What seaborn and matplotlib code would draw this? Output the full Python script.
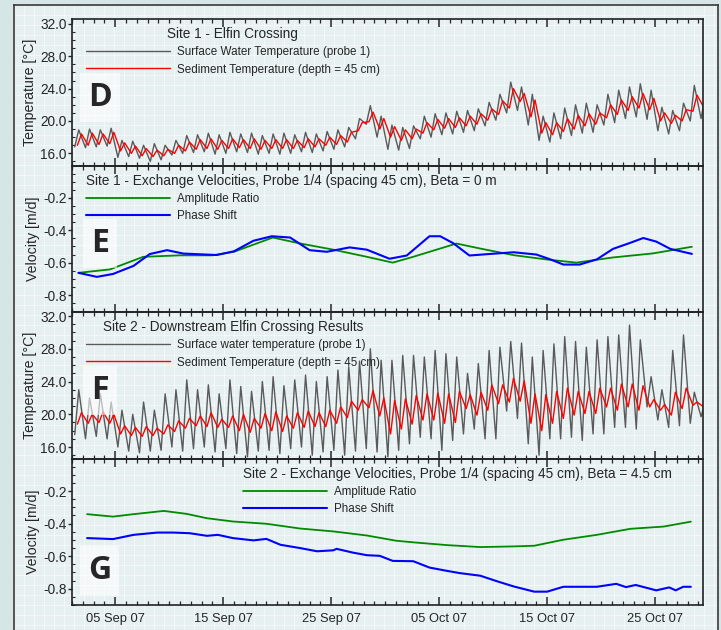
import numpy as np
import pandas as pd
import matplotlib.pyplot as plt
import matplotlib.dates as mdates
import seaborn as sns

sns.set_style('ticks')
plt.rcParams['font.family'] = ['Liberation Sans', 'DejaVu Sans']
plt.rcParams['axes.unicode_minus'] = False

start = pd.Timestamp('2007-09-01')

# ---------------- Site 1 temperatures: daily min / max (days 0..58 from 1 Sep) ----------------
d_surf_max = [18.9, 19.0, 18.9, 19.1, 17.6, 17.5, 17.0, 17.2, 17.0, 17.6,
              18.2, 18.3, 18.5, 18.3, 18.6, 18.4, 18.5, 18.2, 18.4, 18.5,
              18.3, 18.6, 18.4, 18.7, 18.9, 19.2, 20.3, 21.9, 20.6, 19.5,
              19.2, 19.4, 20.6, 20.9, 21.0, 21.2, 21.3, 21.5, 22.3, 23.3,
              24.8, 24.2, 23.3, 20.6, 21.0, 21.6, 22.0, 22.2, 22.0, 23.3,
              23.8, 24.2, 24.6, 23.8, 21.7, 21.3, 22.2, 24.4, 23.0]
d_surf_min = [16.8, 16.7, 16.8, 16.9, 15.5, 15.6, 15.4, 15.0, 15.2, 15.8,
              16.0, 16.1, 16.2, 15.9, 16.0, 16.2, 16.1, 15.9, 16.0, 15.9,
              16.0, 16.2, 16.1, 16.3, 16.5, 16.8, 17.8, 19.6, 18.0, 16.5,
              16.4, 16.6, 17.8, 18.0, 18.3, 18.4, 18.6, 18.8, 19.4, 20.1,
              21.0, 21.3, 19.5, 17.6, 17.4, 17.8, 18.2, 18.5, 18.6, 19.5,
              19.8, 20.3, 20.5, 20.2, 18.8, 18.4, 18.8, 20.0, 20.3]
d_sed_max = [18.4, 18.5, 18.4, 18.6, 17.3, 16.9, 16.6, 16.4, 16.5, 17.0,
             17.4, 17.7, 17.8, 17.6, 17.8, 17.7, 17.8, 17.6, 17.7, 17.7,
             17.6, 17.8, 17.8, 18.0, 18.2, 18.6, 19.8, 21.1, 20.3, 19.3,
             18.9, 19.0, 19.8, 20.2, 20.3, 20.4, 20.6, 20.9, 21.5, 22.5,
             24.0, 23.4, 22.6, 19.8, 19.8, 20.3, 20.7, 20.9, 21.0, 22.0,
             22.6, 23.0, 23.4, 22.8, 21.0, 20.7, 21.4, 23.2, 22.6]
d_sed_min = [17.0, 17.0, 17.1, 17.2, 16.3, 16.0, 15.7, 15.6, 15.7, 16.0,
             16.3, 16.5, 16.6, 16.5, 16.6, 16.7, 16.6, 16.5, 16.6, 16.6,
             16.6, 16.7, 16.8, 17.0, 17.1, 17.4, 18.8, 19.9, 19.0, 18.0,
             17.6, 17.8, 18.5, 18.9, 19.1, 19.2, 19.4, 19.6, 20.1, 20.8,
             21.6, 22.4, 20.5, 18.5, 18.3, 18.7, 19.0, 19.4, 19.6, 20.4,
             20.8, 21.3, 21.6, 21.4, 20.0, 19.7, 20.0, 21.2, 21.7]

# ---------------- Site 2 temperatures: daily min / max ----------------
f_surf_max = [23.0, 22.0, 22.5, 21.5, 20.5, 20.0, 21.5, 20.5, 22.5, 23.0,
              24.2, 23.0, 23.6, 22.5, 24.2, 23.4, 22.8, 24.0, 24.6, 23.5,
              24.2, 24.8, 24.0, 24.6, 25.4, 25.8, 26.5, 28.0, 26.6, 26.6,
              27.2, 27.2, 27.0, 27.8, 27.4, 27.0, 25.0, 26.2, 27.8, 28.2,
              28.9, 28.7, 27.0, 27.8, 28.6, 29.5, 28.9, 28.2, 29.1, 29.5,
              29.7, 30.9, 29.1, 24.6, 23.0, 27.8, 29.7, 22.7, 21.5]
f_surf_min = [17.5, 17.0, 17.3, 17.0, 16.0, 15.5, 15.3, 15.5, 15.6, 16.0,
              15.5, 15.8, 16.0, 15.4, 15.8, 15.2, 14.8, 15.5, 15.6, 15.2,
              15.8, 16.0, 15.0, 15.4, 15.6, 15.0, 15.5, 15.8, 15.4, 14.8,
              15.6, 16.4, 17.2, 17.0, 15.6, 16.8, 17.6, 18.2, 17.0, 17.0,
              20.4, 19.5, 16.4, 15.0, 17.0, 17.0, 17.2, 16.8, 17.6, 17.6,
              18.4, 18.4, 18.2, 20.9, 19.3, 18.4, 18.6, 18.9, 19.7]
f_sed_max = [20.2, 20.0, 20.3, 20.0, 18.6, 18.4, 18.5, 18.3, 18.7, 19.2,
             19.5, 19.8, 20.2, 19.4, 19.8, 20.0, 19.5, 20.1, 20.3, 19.8,
             20.2, 20.4, 20.2, 20.5, 20.9, 21.6, 21.8, 22.9, 22.0, 21.7,
             21.9, 22.3, 22.5, 22.6, 22.5, 22.8, 22.4, 22.7, 23.6, 23.6,
             24.4, 24.1, 22.5, 22.4, 22.8, 23.2, 22.8, 22.8, 23.2, 23.2,
             23.7, 23.7, 23.5, 21.8, 21.2, 22.7, 23.2, 21.5, 21.4]
f_sed_min = [18.8, 18.9, 19.0, 18.9, 17.6, 17.4, 17.3, 17.4, 17.6, 17.9,
             18.3, 18.6, 18.5, 18.4, 18.4, 18.0, 17.8, 18.3, 18.0, 17.9,
             18.3, 18.4, 18.5, 18.5, 18.9, 19.6, 20.5, 20.8, 19.8, 17.6,
             18.2, 18.8, 19.3, 19.3, 18.9, 19.0, 20.7, 19.9, 20.5, 21.3,
             21.5, 21.6, 18.9, 18.0, 18.9, 19.5, 19.9, 20.1, 20.1, 20.9,
             20.5, 20.9, 20.5, 20.9, 20.5, 19.9, 20.7, 21.1, 20.9]

# ---------------- Site 1 exchange velocities (day since 1 Sep, m/d) ----------------
e_amp_day = [0.6, 3.5, 6.6, 10.0, 13.0, 15.0, 18.6, 21.0, 24.2, 27.3, 29.7,
             31.6, 35.6, 37.8, 40.9, 43.9, 46.7, 50.1, 53.8, 57.4]
e_amp_vel = [-0.663, -0.642, -0.564, -0.555, -0.555, -0.533, -0.445, -0.48, -0.52, -0.564, -0.60,
             -0.564, -0.482, -0.513, -0.554, -0.58, -0.60, -0.568, -0.543, -0.502]
e_phase_day = [0.6, 2.3, 3.8, 5.7, 7.2, 8.8, 10.3, 13.4, 15.0, 16.8, 18.5, 20.2, 22.0,
               23.6, 25.7, 27.3, 29.4, 31.0, 33.1, 34.1, 35.3, 36.8, 38.4, 40.9, 43.0,
               44.3, 45.5, 47.0, 48.6, 50.1, 51.6, 52.9, 54.1, 55.4, 57.4]
e_phase_vel = [-0.663, -0.688, -0.67, -0.62, -0.547, -0.523, -0.544, -0.553, -0.53, -0.465,
               -0.437, -0.445, -0.523, -0.533, -0.506, -0.52, -0.576, -0.556, -0.437, -0.437,
               -0.48, -0.556, -0.548, -0.536, -0.55, -0.58, -0.612, -0.612, -0.58, -0.515,
               -0.48, -0.448, -0.47, -0.515, -0.546]

# ---------------- Site 2 exchange velocities ----------------
g_amp_day = [1.4, 3.8, 5.7, 8.5, 10.6, 12.5, 14.9, 18.0, 21.1, 24.2, 27.3, 30.0,
             31.6, 34.7, 37.8, 40.9, 42.8, 45.5, 48.6, 51.7, 54.8, 57.3]
g_amp_vel = [-0.342, -0.357, -0.342, -0.322, -0.340, -0.367, -0.387, -0.401, -0.43, -0.448,
             -0.473, -0.505, -0.515, -0.532, -0.544, -0.540, -0.536, -0.499, -0.469, -0.432,
             -0.418, -0.388]
g_phase_day = [1.4, 3.8, 5.7, 7.9, 9.4, 10.9, 12.5, 13.5, 14.9, 16.8, 18.0, 19.3, 21.1,
               22.7, 24.2, 24.5, 26.0, 27.3, 28.5, 29.7, 31.6, 33.1, 34.7, 35.9, 37.8,
               39.3, 40.9, 42.8, 44.0, 45.5, 48.6, 50.4, 51.3, 52.2, 54.1, 55.3, 55.9,
               56.6, 57.3]
g_phase_vel = [-0.489, -0.495, -0.469, -0.455, -0.455, -0.459, -0.475, -0.469, -0.489,
               -0.503, -0.494, -0.53, -0.55, -0.57, -0.564, -0.555, -0.578, -0.594, -0.598,
               -0.629, -0.631, -0.67, -0.69, -0.704, -0.72, -0.753, -0.786, -0.818, -0.818,
               -0.788, -0.788, -0.77, -0.79, -0.777, -0.81, -0.792, -0.81, -0.788, -0.788]


def daily_frame(lo, hi, lo_hour, hi_hour):
    days = np.arange(len(lo))
    t = np.concatenate([days + lo_hour / 24, days + hi_hour / 24])
    v = np.concatenate([lo, hi])
    order = np.argsort(t)
    return pd.DataFrame({'time': start + pd.to_timedelta(t[order], unit='D'),
                         'value': v[order]})


def vel_frame(day, vel):
    return pd.DataFrame({'time': start + pd.to_timedelta(np.array(day), unit='D'),
                         'value': vel})


fig = plt.figure(figsize=(7.21, 6.30), dpi=100, facecolor='#d6e6e6')

# light gridded panel behind the charts
bg = fig.add_axes([14 / 721, 0, 704 / 721, 625 / 630], zorder=-1)
bg.set_facecolor('#e6f0f0')
bg.set_xlim(0, 704)
bg.set_ylim(0, 625)
bg.set_xticks(np.arange(0, 704, 10))
bg.set_yticks(np.arange(5, 625, 10))
bg.grid(True, color='white', lw=0.7, alpha=0.55)
bg.tick_params(length=0, labelbottom=False, labelleft=False)
for s in ['top', 'left', 'right']:
    bg.spines[s].set_color('#3a3a3a')
    bg.spines[s].set_linewidth(1.2)
bg.spines['bottom'].set_visible(False)

left, right = 72 / 721, 703 / 721
top, bottom = 1 - 19 / 630, 1 - 605 / 630
h = (top - bottom) / 4
axes = [fig.add_axes([left, top - (i + 1) * h, right - left, h]) for i in range(4)]

xmin = start
xmax = start + pd.Timedelta(days=58.43)

# ---------------------- D ----------------------
sns.lineplot(data=daily_frame(d_surf_min, d_surf_max, 6, 15), x='time', y='value', ax=axes[0],
             color='#5a5a5a', lw=1.0, label='Surface Water Temperature (probe 1)')
sns.lineplot(data=daily_frame(d_sed_min, d_sed_max, 12, 21), x='time', y='value', ax=axes[0],
             color='#ff0000', lw=1.0, label='Sediment Temperature (depth = 45 cm)')
axes[0].set_ylim(14.5, 32.6)
axes[0].set_yticks([16, 20, 24, 28, 32])
axes[0].set_ylabel('Temperature [°C]')

# ---------------------- E ----------------------
sns.lineplot(data=vel_frame(e_amp_day, e_amp_vel), x='time', y='value', ax=axes[1],
             color='#008a00', lw=1.3, label='Amplitude Ratio')
sns.lineplot(data=vel_frame(e_phase_day, e_phase_vel), x='time', y='value', ax=axes[1],
             color='#0000ff', lw=1.5, label='Phase Shift')
axes[1].set_ylim(-0.905, 0.0)
axes[1].set_ylabel('Velocity [m/d]')

# ---------------------- F ----------------------
sns.lineplot(data=daily_frame(f_surf_min, f_surf_max, 6, 15), x='time', y='value', ax=axes[2],
             color='#5a5a5a', lw=1.0, label='Surface water temperature (probe 1)')
sns.lineplot(data=daily_frame(f_sed_min, f_sed_max, 12, 21), x='time', y='value', ax=axes[2],
             color='#ff0000', lw=1.0, label='Sediment Temperature (depth = 45 cm)')
axes[2].set_ylim(14.6, 32.5)
axes[2].set_yticks([16, 20, 24, 28, 32])
axes[2].set_ylabel('Temperature [°C]')

# ---------------------- G ----------------------
sns.lineplot(data=vel_frame(g_amp_day, g_amp_vel), x='time', y='value', ax=axes[3],
             color='#008a00', lw=1.3, label='Amplitude Ratio')
sns.lineplot(data=vel_frame(g_phase_day, g_phase_vel), x='time', y='value', ax=axes[3],
             color='#0000ff', lw=1.5, label='Phase Shift')
axes[3].set_ylim(-0.9, 0.0)
axes[3].set_ylabel('Velocity [m/d]')

titles = ['Site 1 - Elfin Crossing',
          'Site 1 - Exchange Velocities, Probe 1/4 (spacing 45 cm), Beta = 0 m',
          'Site 2 - Downstream Elfin Crossing Results',
          'Site 2 - Exchange Velocities, Probe 1/4 (spacing 45 cm), Beta = 4.5 cm']
anchors = [(0.022, 0.945), (0.022, 0.945), (0.022, 0.945), (0.271, 0.945)]
aligns = ['center', 'left', 'center', 'left']
letters = ['D', 'E', 'F', 'G']
letter_y = [0.466, 0.47, 0.466, 0.238]

for i, ax in enumerate(axes):
    ax.patch.set_alpha(0)
    ax.set_xlim(xmin, xmax)
    ax.set_xlabel('')
    ax.xaxis.set_major_locator(mdates.DayLocator(bymonthday=[5, 15, 25]))
    ax.xaxis.set_minor_locator(mdates.DayLocator())
    ax.xaxis.set_major_formatter(mdates.DateFormatter('%d %b %y'))
    ax.tick_params(axis='x', which='major', direction='in', length=6, width=1.1,
                   top=True, bottom=True, labelbottom=(i == 3), labelsize=9.3, pad=6)
    ax.tick_params(axis='x', which='minor', direction='in', length=3, width=0.9,
                   top=True, bottom=True)
    if i in (1, 3):
        ax.set_yticks([-0.8, -0.6, -0.4, -0.2])
        ax.yaxis.set_minor_locator(plt.MultipleLocator(0.05))
    else:
        ax.yaxis.set_minor_locator(plt.MultipleLocator(1))
    ax.yaxis.set_major_formatter(plt.FormatStrFormatter('%.1f'))
    ax.tick_params(axis='y', which='major', direction='out', length=3, width=1.0,
                   labelsize=9.8, pad=1.0)
    ax.tick_params(axis='y', which='minor', direction='in', length=2.5, width=0.8)
    ax.set_ylabel(ax.get_ylabel(), fontsize=10.2, labelpad=2)
    for s in ax.spines.values():
        s.set_color('#222222')
        s.set_linewidth(1.2)
    ax.legend(title=titles[i], loc='upper left', bbox_to_anchor=anchors[i], frameon=False,
              fontsize=8.4, title_fontsize=9.8, handlelength=7.2, handletextpad=0.6,
              borderpad=0, borderaxespad=0, labelspacing=0.45, alignment=aligns[i])
    ax.text(0.044, letter_y[i], letters[i], transform=ax.transAxes, ha='center', va='center',
            fontsize=23, fontweight='bold', family=['Open Sans', 'DejaVu Sans'],
            bbox=dict(boxstyle='square,pad=0.25', facecolor='white', alpha=0.6, edgecolor='none'))

fig.align_ylabels(axes)
fig.savefig('out.png', dpi=100, facecolor=fig.get_facecolor())
